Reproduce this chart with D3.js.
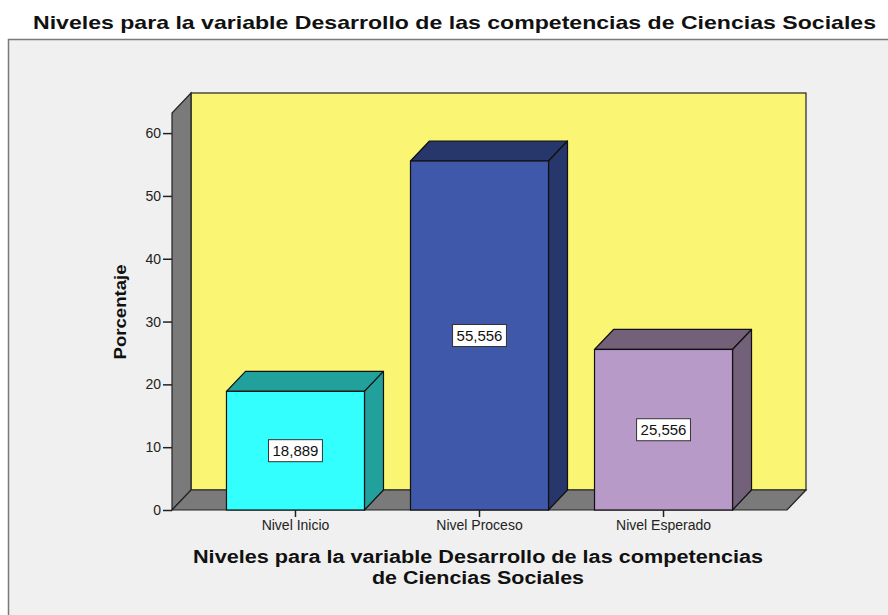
<!DOCTYPE html>
<html>
<head>
<meta charset="utf-8">
<script src="https://cdn.jsdelivr.net/npm/d3@7"></script>
<style>
  body { margin: 0; background: #ffffff; }
  svg text { font-family: "Liberation Sans", Arial, sans-serif; }
</style>
</head>
<body>
<div id="chart"></div>
<script>
// datos
const categorias = ["Nivel Inicio", "Nivel Proceso", "Nivel Esperado"];
const porcentajes = [18.889, 55.556, 25.556];
const etiquetas = ["18,889", "55,556", "25,556"];
const ticksY = [0, 10, 20, 30, 40, 50, 60];
const coloresFrente = ["#33ffff", "#3f58aa", "#b89ac8"];
const coloresLado = ["#21a09c", "#27366b", "#736079"];

const W = 888, H = 615;
const depthX = 19, depthY = -20;

const svg = d3.select("#chart").append("svg")
    .attr("width", W)
    .attr("height", H);

// titulo
svg.append("text")
    .attr("x", 454.5)
    .attr("y", 29)
    .attr("text-anchor", "middle")
    .attr("textLength", 843)
    .attr("lengthAdjust", "spacingAndGlyphs")
    .style("font-size", "19px")
    .style("font-weight", "bold")
    .attr("fill", "#111")
    .text("Niveles para la variable Desarrollo de las competencias de Ciencias Sociales");

// marco
svg.append("rect")
    .attr("x", 8.5)
    .attr("y", 39.5)
    .attr("width", W)
    .attr("height", H)
    .attr("fill", "#f0f0f0")
    .attr("stroke", "#7a7a7a")
    .attr("stroke-width", 1.5);

const x = d3.scaleBand()
    .domain(categorias)
    .range([172, 787])
    .paddingInner(0.25)
    .paddingOuter(0.296);

const y = d3.scaleLinear()
    .domain([0, 63.2])
    .range([510, 113]);

const y0 = y(0), yTop = y.range()[1];
const xL = x.range()[0], xR = x.range()[1];

// pared de fondo
svg.append("rect")
    .attr("x", xL + depthX)
    .attr("y", yTop + depthY)
    .attr("width", xR - xL)
    .attr("height", y0 - yTop)
    .attr("fill", "#faf673")
    .attr("stroke", "#222")
    .attr("stroke-width", 1.2);

// pared lateral
svg.append("polygon")
    .attr("points", [[xL, y0], [xL, yTop], [xL + depthX, yTop + depthY], [xL + depthX, y0 + depthY]].join(" "))
    .attr("fill", "#7a7a7a")
    .attr("stroke", "#222")
    .attr("stroke-width", 1.2);

// piso
svg.append("polygon")
    .attr("points", [[xL, y0], [xR, y0], [xR + depthX, y0 + depthY], [xL + depthX, y0 + depthY]].join(" "))
    .attr("fill", "#7a7a7a")
    .attr("stroke", "#222")
    .attr("stroke-width", 1.2);

// barras 3D
const barras = svg.selectAll("g.barra")
    .data(porcentajes)
    .enter()
    .append("g")
    .attr("class", "barra");

barras.append("polygon")
    .attr("points", (d, i) => {
        const x0 = x(categorias[i]), x1 = x0 + x.bandwidth(), yt = y(d);
        return [[x0, yt], [x0 + depthX, yt + depthY], [x1 + depthX, yt + depthY], [x1, yt]].join(" ");
    })
    .attr("fill", (d, i) => coloresLado[i])
    .attr("stroke", "#111")
    .attr("stroke-width", 1.2)
    .attr("stroke-linejoin", "round");

barras.append("polygon")
    .attr("points", (d, i) => {
        const x1 = x(categorias[i]) + x.bandwidth(), yt = y(d);
        return [[x1, yt], [x1 + depthX, yt + depthY], [x1 + depthX, y0 + depthY], [x1, y0]].join(" ");
    })
    .attr("fill", (d, i) => coloresLado[i])
    .attr("stroke", "#111")
    .attr("stroke-width", 1.2)
    .attr("stroke-linejoin", "round");

barras.append("rect")
    .attr("x", (d, i) => x(categorias[i]))
    .attr("y", d => y(d))
    .attr("width", x.bandwidth())
    .attr("height", d => y0 - y(d))
    .attr("fill", (d, i) => coloresFrente[i])
    .attr("stroke", "#111")
    .attr("stroke-width", 1.2);

// etiquetas de valor
barras.each(function (d, i) {
    const g = d3.select(this);
    const cx = x(categorias[i]) + x.bandwidth() / 2;
    const cy = (y(d) + y0) / 2;
    const t = g.append("text")
        .attr("x", cx)
        .attr("y", cy + 5.5)
        .attr("text-anchor", "middle")
        .style("font-size", "15px")
        .attr("fill", "#111")
        .text(etiquetas[i]);
    const w = t.node().getComputedTextLength() + 8;
    g.insert("rect", "text")
        .attr("x", cx - w / 2)
        .attr("y", cy - 11)
        .attr("width", w)
        .attr("height", 22)
        .attr("fill", "#fff")
        .attr("stroke", "#333")
        .attr("stroke-width", 1);
});

// eje Y
const yAxis = d3.axisLeft(y)
    .tickValues(ticksY)
    .tickSize(9)
    .tickPadding(2);
const gy = svg.append("g")
    .attr("transform", `translate(${xL},0)`)
    .call(yAxis);
gy.select(".domain").remove();
gy.selectAll(".tick line").attr("stroke", "#222").attr("stroke-width", 1.5);
gy.selectAll(".tick text")
    .style("font-size", "14px")
    .style("font-family", "'Liberation Sans', Arial, sans-serif")
    .attr("fill", "#222");

// eje X
const xAxis = d3.axisBottom(x)
    .tickSize(7)
    .tickPadding(3);
const gx = svg.append("g")
    .attr("transform", `translate(0,${y0})`)
    .call(xAxis);
gx.select(".domain").remove();
gx.selectAll(".tick line").attr("stroke", "#222").attr("stroke-width", 1.5);
gx.selectAll(".tick text")
    .style("font-size", "14px")
    .style("font-family", "'Liberation Sans', Arial, sans-serif")
    .attr("fill", "#222");

// titulos de ejes
svg.append("text")
    .attr("transform", "translate(126,312) rotate(-90)")
    .attr("text-anchor", "middle")
    .attr("textLength", 95)
    .attr("lengthAdjust", "spacingAndGlyphs")
    .style("font-size", "17px")
    .style("font-weight", "bold")
    .attr("fill", "#111")
    .text("Porcentaje");

svg.append("text")
    .attr("x", 478)
    .attr("y", 563)
    .attr("text-anchor", "middle")
    .attr("textLength", 570)
    .attr("lengthAdjust", "spacingAndGlyphs")
    .style("font-size", "17.5px")
    .style("font-weight", "bold")
    .attr("fill", "#111")
    .text("Niveles para la variable Desarrollo de las competencias");

svg.append("text")
    .attr("x", 478)
    .attr("y", 584)
    .attr("text-anchor", "middle")
    .attr("textLength", 212)
    .attr("lengthAdjust", "spacingAndGlyphs")
    .style("font-size", "17.5px")
    .style("font-weight", "bold")
    .attr("fill", "#111")
    .text("de Ciencias Sociales");
</script>
</body>
</html>
